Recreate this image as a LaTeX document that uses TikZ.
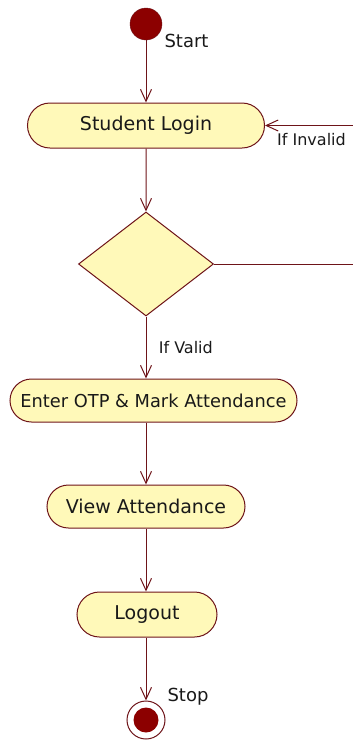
\documentclass[tikz,border=0pt]{standalone}
\usepackage{fontspec}
\setmainfont{DejaVu Sans}
\usepackage{xcolor}
\usepackage{tikz}
\usetikzlibrary{shapes, arrows.meta, positioning, calc}
\definecolor{umlline}{RGB}{110,20,25}
\definecolor{umlfill}{RGB}{255,249,185}
\definecolor{umldot}{RGB}{140,0,0}
\tikzset{
	activity/.style={rounded rectangle, draw=umlline, fill=umlfill, line width=1pt, inner sep=0pt, text=black!90, font=\fontsize{19}{21}\selectfont},
	decision/.style={diamond, draw=umlline, fill=umlfill, line width=1pt, inner sep=0pt, minimum width=135pt, minimum height=104pt},
	flow/.style={-{Straight Barb[length=12pt,width=11pt]}, draw=umlline, line width=1pt},
	guard/.style={text=black!90, font=\fontsize{16}{18}\selectfont},
	caption/.style={text=black!90, font=\fontsize{18}{20}\selectfont},
}

\begin{document}
\begin{tikzpicture}[x=1pt, y=-1pt]
		\useasboundingbox (0,0) rectangle (353,740);
		\node[circle, fill=umldot, draw=umlline, minimum size=32pt, inner sep=0pt] (start) at (146,24) {};
		\node[caption, anchor=west] (startlbl) at (161,41) {Start};
		\node[activity, minimum width=237pt, minimum height=45pt] (login) at (146,125.5) {Student Login};
		\node[decision] (check) at (146,264) {};
		\node[activity, minimum width=287pt, minimum height=43pt, font=\fontsize{17.8}{20}\selectfont] (otp) at (153.5,400.5) {Enter OTP \& Mark Attendance};
		\node[activity, minimum width=198pt, minimum height=43pt] (view) at (146,506.5) {View Attendance};
		\node[activity, minimum width=140pt, minimum height=45pt] (logout) at (147,614.5) {Logout};
		\node[circle, draw=umlline, line width=1pt, fill=white, minimum size=38pt, inner sep=0pt] (stop) at (146,720) {};
		\node[circle, fill=umldot, minimum size=25pt, inner sep=0pt] (stopdot) at (stop) {};
		\node[caption, anchor=west] (stoplbl) at (164,697) {Stop};
		\coordinate (loopb) at (358,264);
		\coordinate (loopt) at (loopb |- login);

		\draw[flow] (start) -- (start |- login.north);
		\draw[flow] (login) -- (check);
		\draw[flow] (check) -- node[guard, right, xshift=9pt] {If Valid} (check.south |- otp.north);
		\draw[flow] (otp.south -| view) -- (view);
		\draw[flow] (view) -- (view |- logout.north);
		\draw[flow] (logout.south -| stop) -- (stop);
		\draw[flow] (check.east) -- (loopb) -- (loopt) -- node[guard, below, yshift=-4pt, pos=0.5] {If Invalid} (login.east);
	\end{tikzpicture}
\end{document}
